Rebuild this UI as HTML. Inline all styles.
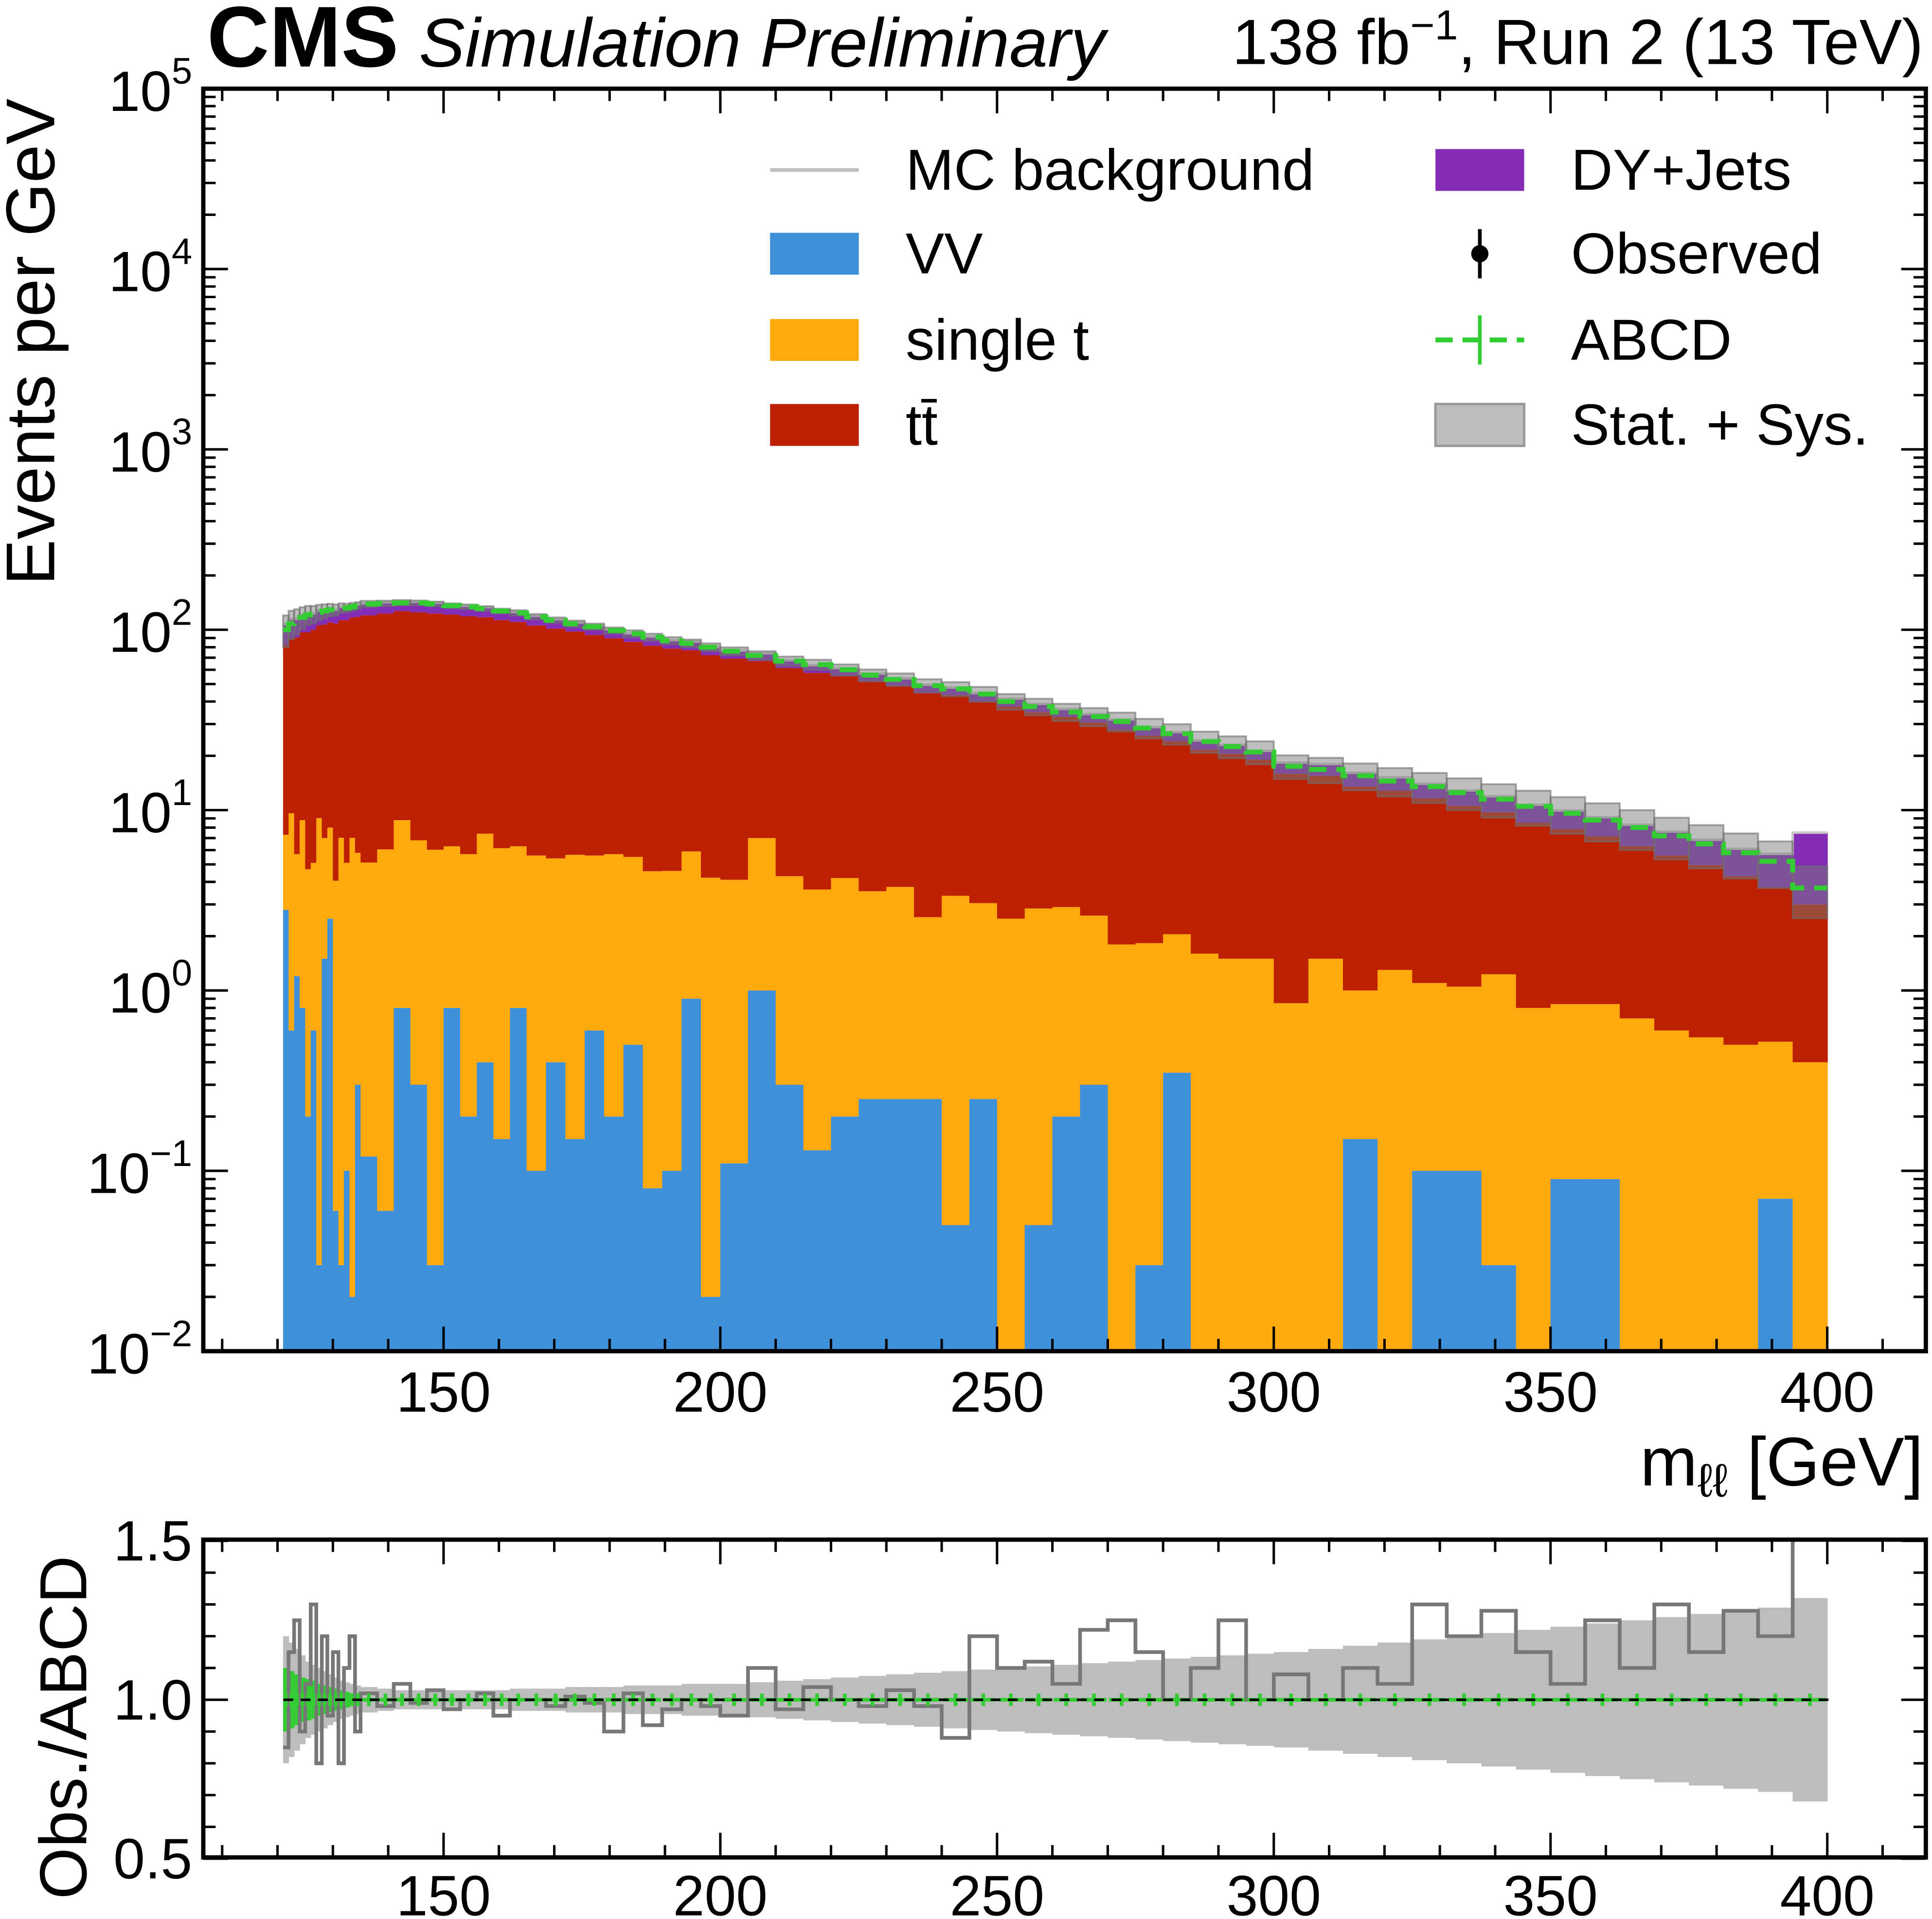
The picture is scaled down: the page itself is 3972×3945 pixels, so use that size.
<!DOCTYPE html>
<html><head><meta charset="utf-8">
<style>
html,body{margin:0;padding:0;background:#fff;}
svg{display:block;}
text{font-family:"Liberation Sans",sans-serif;}
</style></head>
<body>
<svg id="chart" width="3972" height="3945" viewBox="0 0 1568 1558" preserveAspectRatio="none" xmlns="http://www.w3.org/2000/svg">
<defs>
<clipPath id="cm"><rect x="165" y="72" width="1398" height="1025"/></clipPath>
<clipPath id="cr"><rect x="165" y="1250" width="1398" height="258"/></clipPath>
</defs>
<rect x="0" y="0" width="1568" height="1558" fill="#fff"/>
<g id="main-marks" clip-path="url(#cm)"></g>
<g id="ratio-marks" clip-path="url(#cr)"></g>
<g id="axes"></g>
<text x="168" y="54" font-size="70" font-weight="bold">CMS</text>
<text x="340" y="54" font-size="56" font-style="italic">Simulation Preliminary</text>
<text x="1561" y="52" font-size="52" text-anchor="end">138 fb<tspan dy="-20" font-size="34">−1</tspan><tspan dy="20">, Run 2 (13 TeV)</tspan></text>
<text transform="translate(44,80) rotate(-90)" font-size="56" text-anchor="end">Events per GeV</text>
<text x="1561" y="1206" font-size="56" text-anchor="end">m<tspan font-size="38" dy="9">ℓℓ</tspan><tspan dy="-9"> [GeV]</tspan></text>
<text transform="translate(70,1542) rotate(-90)" font-size="54">Obs./ABCD</text>
<g id="legend"></g>
</svg>
<script>
const NS="http://www.w3.org/2000/svg";
// bin edges (categories)
const binEdges=[];
(function(){let e=121;binEdges.push(e);
const segs=[[14,1],[10,3],[10,3.5],[10,5],[10,5],[16,6.25]];
for(const [n,w] of segs){for(let i=0;i<n;i++){e+=w;binEdges.push(+e.toFixed(3));}}})();
const vvValues=[2.8,0.6,1.2,0.8,0.2,0.6,0.03,1.5,2.5,0.06,0.03,0.1,0.02,0.3,
0.12,0.06,0.8,0.3,0.03,0.8,0.2,0.4,0.15,0.8,
0.1,0.4,0.15,0.6,0.2,0.5,0.08,0.1,0.9,0.02,
0.11,1.0,0.3,0.13,0.2,0.25,0.25,0.25,0.05,0.25,
0,0.05,0.2,0.3,0,0.03,0.35,0,0,0,
0,0,0.15,0,0.1,0.1,0.03,0,0.09,0.09,0,0,0,0,0.07,0];
const singleTopValues=[4.5,9,4.5,8,4.5,4.5,9,5.5,5.5,4,7,5,7,5.5,
5,6,8,6.5,6,5.5,5.5,7,6,5.5,
5.5,5,5.5,5,5.5,5,4.5,4.5,5,4.2,
4,6,4,3.5,4,3.3,3.5,2.3,3.3,2.8,
2.5,2.8,2.7,2.3,1.8,1.8,1.7,1.6,1.5,1.5,
0.85,1.5,0.85,1.3,1.0,0.95,1.2,0.8,0.75,0.75,0.7,0.6,0.55,0.5,0.45,0.4];
const ttbarValues=[75,80,85,88,92,95,97,100,102,104,106,108,110,112,
115,117,118,118,117,115,113,110,107,104,
100,96,92,88,84,80,77,74,71,68,
65,60,57,54,51,48,45,42,40,37,
35,32,30,28,26,24,22,20,19,17.5,
15,14,12.5,11.5,10.5,9.5,8.5,7.7,7,6.3,5.6,5,4.4,3.8,3.2,2.6];
const dyValues=[25,25,24,24,23,23,22,22,22,21,21,20,20,20,
20,19,19,18,18,17,17,16,16,15,
14,13,12,12,11,10,10,9,9,8,
7.5,7,6.5,6,6,5.5,5,5,4.5,4.5,
4,4,3.5,3.5,4,3,3,2.7,2.5,2.3,
2.5,2.5,2.6,2.4,2.4,2.3,2.2,2.2,2.1,2,2,2,1.9,1.8,2,4.5];
const abcdValues=[100,108,112,117,121,122,125,127,129,129,132,132,134,136,
139,140,141,141,139,136,134,131,127,124,
118,113,108,104,99,95,91,87,84,80,
76,72,67,64,60,56,53,49,47,44,
40,37.5,35,33,31,28.5,26.5,24,22.5,21,
17.5,16.8,15.5,14.5,13.5,12.5,11.5,10.5,9.6,8.8,8,7.2,6.5,5.8,5.2,3.7];
const ratioValues=[0.85,1.15,1.25,0.9,1.05,1.3,0.8,1.2,0.95,1.15,0.8,1.1,1.2,0.9,
1.02,0.98,1.05,0.99,1.03,0.97,1.0,1.02,0.95,1.0,
1.0,0.98,1.01,0.99,0.9,1.02,0.92,0.97,1.0,0.98,
0.95,1.1,0.97,1.04,1.0,0.98,1.03,0.98,0.88,1.2,
1.1,1.12,1.05,1.22,1.25,1.15,1.0,1.1,1.25,1.0,
1.08,1.0,1.1,1.05,1.3,1.2,1.28,1.15,1.05,1.25,1.1,1.3,1.15,1.28,1.2,1.6];
const totalErr=[0.2,0.18,0.16,0.14,0.12,0.11,0.1,0.09,0.08,0.07,0.06,0.055,0.05,0.045,
0.04,0.035,0.03,0.03,0.03,0.03,0.03,0.03,0.03,0.035,
0.035,0.035,0.04,0.04,0.04,0.045,0.045,0.045,0.05,0.05,
0.05,0.055,0.06,0.065,0.07,0.075,0.08,0.085,0.09,0.095,
0.1,0.105,0.11,0.115,0.12,0.125,0.13,0.135,0.14,0.145,
0.15,0.16,0.17,0.18,0.19,0.2,0.21,0.22,0.23,0.24,0.25,0.26,0.27,0.28,0.29,0.32];
const statErr=[0.1,0.09,0.08,0.07,0.065,0.06,0.05,0.045,0.04,0.035,0.03,0.025,0.02,0.02];
const xTicks=[150,200,250,300,350,400];
const yExps=[-2,-1,0,1,2,3,4,5];
const ratioTicks=["0.5","1.0","1.5"];

const X=m=>360+(m-150)*4.492;
const Y=v=>v<=0?1200:1097-(Math.log10(v)+2)*146.43;
const R=r=>1380-(r-1)*258;

function mk(tag,attrs,parent){const e=document.createElementNS(NS,tag);for(const k in attrs)e.setAttribute(k,attrs[k]);parent.appendChild(e);return e;}
const main=document.getElementById('main-marks');
const ratio=document.getElementById('ratio-marks');
const axes=document.getElementById('axes');
const colors=['#3f90da','#ffa90e','#bd1f01','#832db6'];
const layerNames=['vv','single-t','ttbar','dy-jets'];
const layers=[vvValues,singleTopValues,ttbarValues,dyValues];
const n=binEdges.length-1;
for(let i=0;i<n;i++){
  let cum=0;
  for(let l=0;l<4;l++){
    const lo=cum;cum+=layers[l][i];
    if(layers[l][i]<=0)continue;
    const y0=lo<=0?1200:Y(lo),y1=Y(cum);
    const r=mk('rect',{x:X(binEdges[i]),y:y1,width:X(binEdges[i+1])-X(binEdges[i])+0.4,height:y0-y1,fill:colors[l]},main);
    
    
  }
}
let dTot='';
for(let i=0;i<n;i++){const t=vvValues[i]+singleTopValues[i]+ttbarValues[i]+dyValues[i];dTot+=(i?'L':'M')+X(binEdges[i])+' '+Y(t)+'L'+X(binEdges[i+1])+' '+Y(t);}
const tp=mk('path',{d:dTot,fill:'none',stroke:'#c8c8c8','stroke-width':2},main);


for(let i=0;i<n;i++){
  const a=abcdValues[i],e=totalErr[i];
  const y1=Y(a*(1+e)),y0=Y(a*(1-e));
  const b=mk('rect',{x:X(binEdges[i]),y:y1,width:X(binEdges[i+1])-X(binEdges[i]),height:y0-y1,fill:'rgba(120,120,120,0.48)',stroke:'rgba(110,110,110,0.6)','stroke-width':1.5},main);
  
  
}
let dA='';
for(let i=0;i<n;i++){dA+=(i?'L':'M')+X(binEdges[i])+' '+Y(abcdValues[i])+'L'+X(binEdges[i+1])+' '+Y(abcdValues[i]);}
const ap=mk('path',{d:dA,fill:'none',stroke:'#33cc33','stroke-width':4,'stroke-dasharray':'14 8'},main);



for(let i=0;i<n;i++){
  const e=totalErr[i];
  const b=mk('rect',{x:X(binEdges[i]),y:R(1+e),width:X(binEdges[i+1])-X(binEdges[i])+0.3,height:R(1-e)-R(1+e),fill:'#bdbdbd'},ratio);
  
  
}
for(let i=0;i<statErr.length;i++){
  const e=statErr[i];
  const b=mk('rect',{x:X(binEdges[i]),y:R(1+e),width:X(binEdges[i+1])-X(binEdges[i])+0.3,height:R(1-e)-R(1+e),fill:'#33cc33'},ratio);
  
  
}
let dR='';
for(let i=0;i<n;i++){dR+=(i?'L':'M')+X(binEdges[i])+' '+R(ratioValues[i])+'L'+X(binEdges[i+1])+' '+R(ratioValues[i]);}
const rp=mk('path',{d:dR,fill:'none',stroke:'#777','stroke-width':3},ratio);


for(let i=0;i<n;i++){
  const xa=X(binEdges[i]),xb=X(binEdges[i+1]),xc=(xa+xb)/2;
  const g=mk('path',{d:`M${xa+1} ${R(1)}L${xb-1} ${R(1)}M${xc} ${R(1)-5}L${xc} ${R(1)+5}`,stroke:'#33cc33','stroke-width':3,fill:'none'},ratio);
  
  
}
const ul=mk('line',{x1:230,x2:1484,y1:R(1),y2:R(1),stroke:'#000','stroke-width':2,'stroke-dasharray':'8 6'},ratio);



function frame(x,y,w,h,name){const f=mk('rect',{x,y,width:w,height:h,fill:'none',stroke:'#000','stroke-width':3.5},axes);}
frame(165,72,1398,1025,'main-frame');
frame(165,1250,1398,258,'ratio-frame');
let dT='';
function xt(top,bot){
  for(let m=110;m<=410;m+=10){const x=X(m);if(x<166||x>1562)continue;const L=(m%50===0)?20:10;dT+=`M${x} ${bot}L${x} ${bot-L}M${x} ${top}L${x} ${top+L}`;}
}
xt(72,1097);xt(1250,1508);
for(let k=-2;k<=5;k++){for(let j=1;j<10;j++){const v=Math.pow(10,k)*j;const y=Y(v);if(y<72||y>1097)continue;const L=j===1?20:10;dT+=`M165 ${y}L${165+L} ${y}M1563 ${y}L${1563-L} ${y}`;}}
for(let r=0.5;r<=1.501;r+=0.1){const y=R(r);const maj=Math.abs(r*2-Math.round(r*2))<1e-6;const L=maj?20:10;dT+=`M165 ${y}L${165+L} ${y}M1563 ${y}L${1563-L} ${y}`;}
mk('path',{d:dT,stroke:'#000','stroke-width':2,fill:'none'},axes);
xTicks.forEach(m=>{
  const t=mk('text',{x:X(m),y:1146,'font-size':46,'text-anchor':'middle'},axes);t.textContent=m;
  
  const t2=mk('text',{x:X(m),y:1555,'font-size':46,'text-anchor':'middle'},axes);t2.textContent=m;
  
});
yExps.forEach(k=>{
  const t=mk('text',{x:156,y:Y(Math.pow(10,k))+18,'font-size':46,'text-anchor':'end'},axes);
  
  const s=k<0?'−'+(-k):String(k);
  t.innerHTML=`10<tspan dy="-22" font-size="30">${s}</tspan>`;
});
ratioTicks.forEach(s=>{
  const t=mk('text',{x:156,y:R(parseFloat(s))+16,'font-size':46,'text-anchor':'end'},axes);t.textContent=s;
  
});

const lg=document.getElementById('legend');
function entry(x,y,label,kind,col){
  const g=mk('g',{},lg);
  
  
  if(kind==='box')mk('rect',{x:x,y:y-17,width:72,height:34,fill:col},g);
  if(kind==='band')mk('rect',{x:x,y:y-17,width:72,height:34,fill:'#bdbdbd',stroke:'#999','stroke-width':2},g);
  if(kind==='line')mk('line',{x1:x,x2:x+72,y1:y,y2:y,stroke:'#c0c0c0','stroke-width':3},g);
  if(kind==='obs'){mk('line',{x1:x+36,x2:x+36,y1:y-20,y2:y+20,stroke:'#000','stroke-width':3},g);mk('circle',{cx:x+36,cy:y,r:7,fill:'#000'},g);}
  if(kind==='abcd'){mk('line',{x1:x,x2:x+72,y1:y,y2:y,stroke:'#33cc33','stroke-width':4,'stroke-dasharray':'14 8'},g);mk('line',{x1:x+36,x2:x+36,y1:y-20,y2:y+20,stroke:'#33cc33','stroke-width':3},g);}
  const t=mk('text',{x:x+110,y:y+16,'font-size':47},g);t.textContent=label;
}
entry(625,138,'MC background','line');
entry(625,206,'VV','box','#3f90da');
entry(625,276,'single t','box','#ffa90e');
entry(625,345,'tt\u0304','box','#bd1f01');
entry(1165,138,'DY+Jets','box','#832db6');
entry(1165,206,'Observed','obs');
entry(1165,276,'ABCD','abcd');
entry(1165,345,'Stat. + Sys.','band');
</script>
</body></html>
